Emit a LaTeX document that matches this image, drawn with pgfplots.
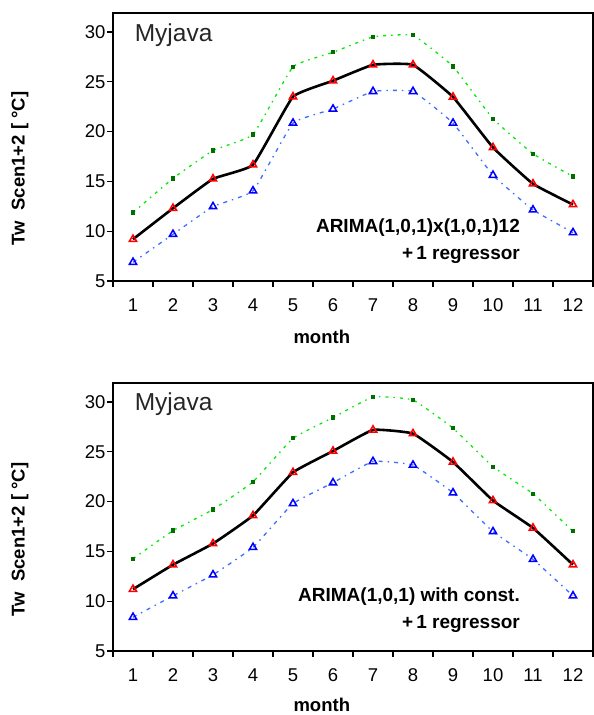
\documentclass[border=0pt]{standalone}
\usepackage{fontspec}
\setmainfont{Liberation Sans}
\usepackage{pgfplots}
\pgfplotsset{compat=1.18}

\definecolor{grline}{RGB}{0,235,0}
\definecolor{grmark}{RGB}{0,110,0}
\definecolor{blline}{RGB}{60,110,255}
\definecolor{blmark}{RGB}{0,0,255}

\newcommand{\lblfont}{\fontsize{18.5}{27}\selectfont}
\tikzset{lbl/.style={font=\lblfont\bfseries, inner sep=0pt}}

\pgfplotsset{
  panel/.style={
    scale only axis,
    width=480pt, height=268pt,
    xmin=0.5, xmax=12.5, ymin=5, ymax=31.9,
    xtick={1,...,12},
    minor xtick={0.5,1.5,...,12.5},
    ytick={5,10,...,30},
    tick pos=left,
    tick align=outside,
    major tick length=6pt,
    minor tick length=6pt,
    major x tick style={draw=none},
    every tick/.style={black, line width=1.2pt},
    minor x tick style={black, line width=1.2pt},
    axis line style={line width=1.6pt},
    /pgf/number format/assume math mode=true,
    ticklabel style={font=\lblfont},
    xticklabel style={yshift=-8pt},
    yticklabel style={xshift=2pt},
    clip=false,
  },
  sgreen/.style={color=grline, line width=1.3pt, smooth, tension=0.2,
    dash pattern=on 3pt off 5pt on 1.5pt off 5pt,
    mark=square*, mark size=1.5pt,
    mark options={solid, fill=grmark, draw=grmark}},
  sblue/.style={color=blline, line width=1.3pt, smooth, tension=0.2,
    dash pattern=on 4pt off 5pt on 1.5pt off 5pt,
    mark=triangle, mark size=4.2pt,
    mark options={solid, draw=blmark, fill=white, line width=1.5pt}},
  sblack/.style={color=black, line width=2.6pt, smooth, tension=0.2,
    mark=triangle, mark size=4.2pt,
    mark options={solid, draw=red, fill=white, line width=1.5pt}},
}

\begin{document}
\begin{tikzpicture}
\useasboundingbox (0,0) rectangle (594pt,715pt);

% upper panel
\begin{axis}[panel, at={(113pt,434pt)}, anchor=south west]
\addplot[sgreen] coordinates {
  (1,11.87) (2,15.3) (3,18.1) (4,19.7) (5,26.5) (6,27.95)
  (7,29.5) (8,29.66) (9,26.54) (10,21.28) (11,17.77) (12,15.48)
};
\addplot[sblue] coordinates {
  (1,6.88) (2,9.69) (3,12.47) (4,14.05) (5,20.85) (6,22.26)
  (7,24.03) (8,24.03) (9,20.85) (10,15.62) (11,12.14) (12,9.86)
};
\addplot[sblack] coordinates {
  (1,9.19) (2,12.3) (3,15.25) (4,16.66) (5,23.5) (6,25.1)
  (7,26.7) (8,26.7) (9,23.47) (10,18.4) (11,14.75) (12,12.67)
};
\node[anchor=west, font=\fontsize{24.5}{28}\selectfont, text=black!85, inner sep=0pt]
  at (axis description cs:0.045,0.918) {Myjava};
\node[lbl, anchor=east, align=right, font=\fontsize{19}{27}\selectfont\bfseries]
  at (axis description cs:0.848,0.15) {ARIMA(1,0,1)x(1,0,1)12\\+\,1 regressor};
\node[lbl] at (axis description cs:0.435,-0.207) {month};
\node[lbl, rotate=90] at (axis description cs:-0.194,0.42)
  {Tw~~Scen1+2 [~°C]};
\end{axis}

% lower panel
\begin{axis}[panel, at={(113pt,64pt)}, anchor=south west]
\addplot[sgreen] coordinates {
  (1,14.26) (2,17.08) (3,19.2) (4,21.98) (5,26.35) (6,28.43)
  (7,30.5) (8,30.2) (9,27.36) (10,23.5) (11,20.78) (12,17.01)
};
\addplot[sblue] coordinates {
  (1,8.39) (2,10.54) (3,12.65) (4,15.4) (5,19.8) (6,21.89)
  (7,24.03) (8,23.66) (9,20.88) (10,16.98) (11,14.2) (12,10.54)
};
\addplot[sblack] coordinates {
  (1,11.2) (2,13.66) (3,15.78) (4,18.6) (5,22.93) (6,25.07)
  (7,27.19) (8,26.82) (9,23.97) (10,20.1) (11,17.35) (12,13.66)
};
\node[anchor=west, font=\fontsize{24.5}{28}\selectfont, text=black!85, inner sep=0pt]
  at (axis description cs:0.045,0.921) {Myjava};
\node[lbl, anchor=east, align=right, font=\fontsize{19}{27}\selectfont\bfseries]
  at (axis description cs:0.848,0.153) {ARIMA(1,0,1) with const.\\+\,1 regressor};
\node[lbl] at (axis description cs:0.435,-0.2) {month};
\node[lbl, rotate=90] at (axis description cs:-0.194,0.416)
  {Tw~~Scen1+2 [~°C]};
\end{axis}
\end{tikzpicture}
\end{document}
